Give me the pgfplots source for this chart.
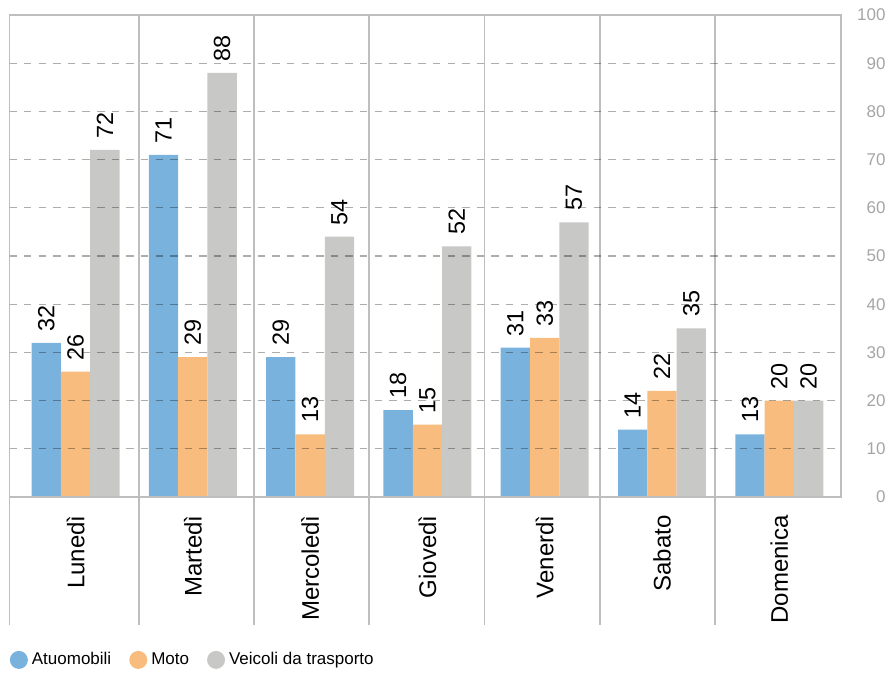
\documentclass[border=0pt]{standalone}
\usepackage{pgfplots}
\pgfplotsset{compat=1.18}
\usepackage{fontspec}
\setmainfont{Liberation Sans}
\definecolor{cblue}{RGB}{122,178,222}
\definecolor{corange}{RGB}{247,188,126}
\definecolor{cgrey}{RGB}{200,200,199}
\definecolor{cframe}{RGB}{190,190,190}
\definecolor{ctick}{RGB}{165,165,165}
\begin{document}
\begin{tikzpicture}
\useasboundingbox (-4.75pt,-88pt) rectangle (440.25pt,248.5pt);
\begin{axis}[
  at={(0,0)}, anchor=south west,
  scale only axis, width=415.75pt, height=241pt,
  xmin=-0.563, xmax=6.526, ymin=0, ymax=100,
  ybar, bar width=0.25,
  axis on top, clip=false,
  xtick={0,1,2,3,4,5,6},
  xticklabels={Lunedì,Martedì,Mercoledì,Giovedì,Venerdì,Sabato,Domenica},
  xticklabel style={rotate=90, anchor=east, inner sep=0pt, font=\fontsize{12}{12}\selectfont},
  xticklabel shift=9pt,
  ytick={0,10,...,100}, yticklabel pos=right,
  yticklabel style={anchor=east, inner sep=0pt, xshift=22.5pt, text=ctick, font=\fontsize{8.5}{8.5}\selectfont},
  /pgf/number format/assume math mode=true,
  major tick length=0pt,
  ymajorgrids, grid style={dash pattern=on 3.7pt off 3.6pt, black, opacity=0.32, line width=0.55pt},
  axis line style={cframe, line width=0.75pt},
  nodes near coords,
  every node near coord/.append style={rotate=90, anchor=west, inner sep=5.5pt, text=black, font=\fontsize{11.7}{11.7}\selectfont},
  legend style={at={(0,-0.338)}, anchor=west, draw=none, fill=none, inner xsep=0pt,
    font=\fontsize{8.5}{8.5}\selectfont, /tikz/every even column/.append style={column sep=7pt}},
  legend columns=3, legend cell align=left,
]
\addplot[fill=cblue, draw=none, bar shift=-0.25,
  legend image code/.code={\fill[cblue] (4.5pt,0pt) circle (4.5pt);}]
  coordinates {(0,32) (1,71) (2,29) (3,18) (4,31) (5,14) (6,13)};
\addplot[fill=corange, draw=none, bar shift=0,
  legend image code/.code={\fill[corange] (4.5pt,0pt) circle (4.5pt);}]
  coordinates {(0,26) (1,29) (2,13) (3,15) (4,33) (5,22) (6,20)};
\addplot[fill=cgrey, draw=none, bar shift=0.25,
  legend image code/.code={\fill[cgrey] (4.5pt,0pt) circle (4.5pt);}]
  coordinates {(0,72) (1,88) (2,54) (3,52) (4,57) (5,35) (6,20)};
\legend{Atuomobili, Moto, Veicoli da trasporto}
\draw[cframe, line width=0.75pt] (axis cs:-0.563,0) -- (axis cs:-0.563,-26.56);
\pgfplotsinvokeforeach{0.541,1.522,2.503,3.487,4.471,5.452}{
  \draw[cframe, line width=0.75pt] (axis cs:#1,100) -- (axis cs:#1,-26.56);
}
\end{axis}
\end{tikzpicture}
\end{document}
